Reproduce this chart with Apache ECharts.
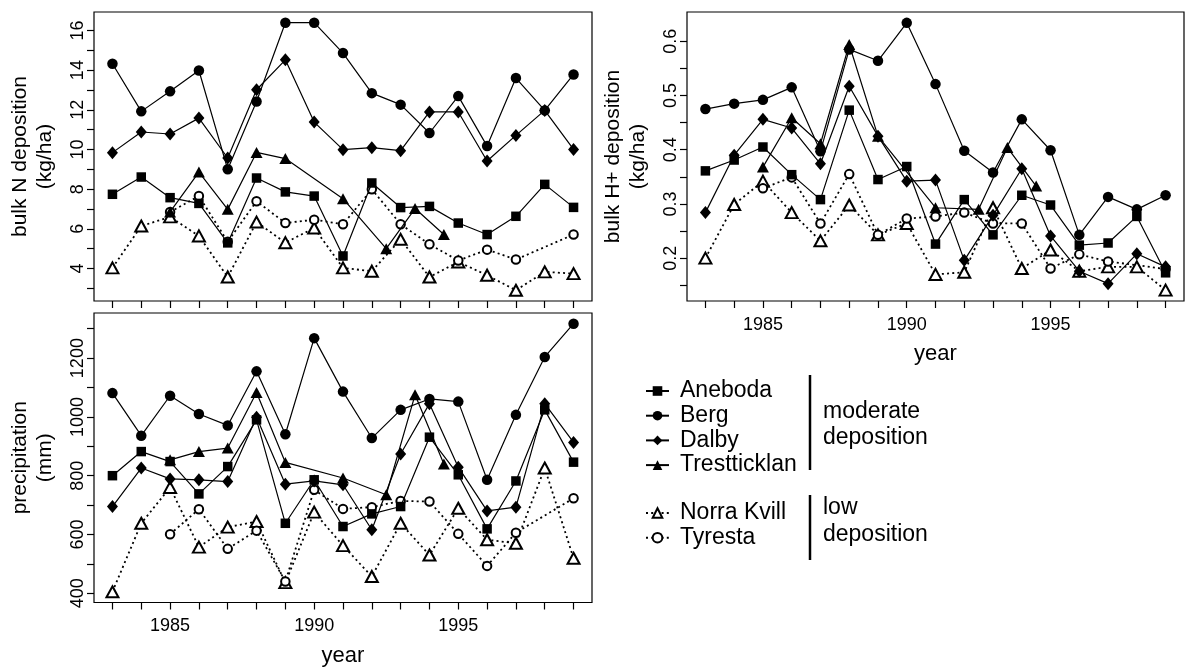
<!DOCTYPE html>
<html>
<head>
<meta charset="utf-8">
<script src="https://cdn.jsdelivr.net/npm/echarts@6/dist/echarts.min.js"></script>
<style>
html,body{margin:0;padding:0;background:#fff;}
#c{width:1185px;height:669px;}
</style>
</head>
<body>
<div id="c"></div>
<script>
// ---------------- data ----------------
const years = [1983,1984,1985,1986,1987,1988,1989,1990,1991,1992,1993,1994,1995,1996,1997,1998,1999];
const trestYears = [1985,1986,1987,1988,1989,1991,1992.5,1993.5,1994.5];
const tyrestaYears = [1985,1986,1987,1988,1989,1990,1991,1992,1993,1994,1995,1996,1997,1999];

const siteNames = ['Aneboda','Berg','Dalby','Trestticklan','Norra Kvill','Tyresta'];

// bulk N deposition (kg/ha)
const nAneboda  = [7.74,8.61,7.57,7.28,5.29,8.56,7.86,7.65,4.63,8.31,7.07,7.13,6.29,5.71,6.63,8.24,7.08];
const nBerg     = [14.32,11.92,12.93,13.98,9.0,12.42,16.39,16.39,14.86,12.84,12.26,10.83,12.69,10.17,13.6,11.97,13.78];
const nDalby    = [9.84,10.88,10.78,11.58,9.57,13.01,14.52,11.38,9.99,10.09,9.94,11.89,11.89,9.42,10.71,11.97,10.0];
const nTrest    = [6.85,8.86,6.98,9.85,9.54,7.52,5.0,7.02,5.71];
const nNorra    = [4.03,6.14,6.6,5.64,3.57,6.34,5.3,6.04,4.03,3.86,5.47,3.57,4.33,3.66,2.9,3.83,3.74];
const nTyresta  = [6.85,7.65,5.35,7.39,6.29,6.46,6.23,7.99,6.23,5.22,4.4,4.95,4.45,5.71];

// bulk H+ deposition (kg/ha)
const hAneboda  = [0.361,0.381,0.405,0.354,0.308,0.473,0.345,0.369,0.226,0.308,0.243,0.316,0.298,0.224,0.228,0.277,0.173];
const hBerg     = [0.475,0.485,0.492,0.515,0.397,0.585,0.564,0.634,0.521,0.398,0.358,0.456,0.399,0.243,0.313,0.29,0.316];
const hDalby    = [0.284,0.39,0.456,0.44,0.374,0.517,0.425,0.342,0.344,0.196,0.279,0.365,0.241,0.176,0.153,0.208,0.184];
const hTrest    = [0.368,0.459,0.411,0.594,0.425,0.293,0.29,0.404,0.333];
const hNorra    = [0.2,0.299,0.342,0.284,0.232,0.298,0.243,0.264,0.17,0.174,0.293,0.181,0.215,0.176,0.184,0.184,0.141];
const hTyresta  = [0.329,0.349,0.264,0.355,0.243,0.273,0.277,0.284,0.264,0.264,0.181,0.207,0.194,0.18];

// precipitation (mm)
const pAneboda  = [800,882,848,738,831,990,638,786,627,670,695,931,803,619,782,1024,846];
const pBerg     = [1081,936,1072,1010,971,1155,941,1268,1086,928,1024,1061,1052,786,1007,1204,1317];
const pDalby    = [695,826,789,786,780,999,771,782,769,616,874,1045,829,680,693,1045,913];
const pTrest    = [854,882,894,1083,845,792,735,1075,840];
const pNorra    = [405,638,760,557,625,644,436,676,562,457,638,530,689,582,570,826,519];
const pTyresta  = [601,686,551,613,440,752,687,693,714,712,602,493,606,723];

// tick values
const yearTicks = years;
const yearLabels = [1985,1990,1995];
const nTicks = [3,4,5,6,7,8,9,10,11,12,13,14,15,16];
const nLabels = [4,6,8,10,12,14,16];
const hTicks = [0.15,0.2,0.25,0.3,0.35,0.4,0.45,0.5,0.55,0.6];
const hLabels = [0.2,0.3,0.4,0.5,0.6];
const pTicks = [400,500,600,700,800,900,1000,1100,1200,1300];
const pLabels = [400,600,800,1000,1200];

// ---------------- chart ----------------
const FONT = '"Liberation Sans", Arial, Helvetica, sans-serif';
const siteYears = [years, years, years, trestYears, years, tyrestaYears];
const panels = [
  [nAneboda,nBerg,nDalby,nTrest,nNorra,nTyresta],
  [hAneboda,hBerg,hDalby,hTrest,hNorra,hTyresta],
  [pAneboda,pBerg,pDalby,pTrest,pNorra,pTyresta]
];
const symbolDefs = [
  {symbol:'rect', size:9.5, empty:false},
  {symbol:'circle', size:10.5, empty:false},
  {symbol:'diamond', size:[11,13], empty:false},
  {symbol:'triangle', size:[12,11], empty:false},
  {symbol:'emptyTriangle', size:[12,11], empty:true},
  {symbol:'emptyCircle', size:8.5, empty:true}
];

const series = [];
panels.forEach((vals, p) => {
  vals.forEach((v, s) => {
    const xs = siteYears[s];
    const sd = symbolDefs[s];
    series.push({
      name: siteNames[s],
      type: 'line',
      xAxisIndex: p,
      yAxisIndex: p,
      data: xs.map((x, i) => [x, v[i]]),
      symbol: sd.symbol,
      symbolSize: sd.size,
      showSymbol: true,
      animation: false,
      silent: true,
      lineStyle: sd.empty
        ? {color:'#000', width:1.8, type:[2,3.2]}
        : {color:'#000', width:1.2, type:'solid'},
      itemStyle: sd.empty
        ? {color:'#000', borderColor:'#000', borderWidth:1.4}
        : {color:'#000', borderWidth:0},
      emphasis: {disabled: true},
      z: sd.empty ? 2 : 3
    });
  });
});

function xAxisDef(gridIndex, showLabels) {
  return {
    type:'value', gridIndex, min:1982.36, max:1999.64,
    axisLine:{show:false},
    splitLine:{show:false},
    axisTick:{show:true, customValues: yearTicks, length:7, lineStyle:{color:'#000', width:1.2}},
    axisLabel:{show:showLabels, customValues: yearLabels, margin:15, fontSize:18, fontFamily:FONT, color:'#000',
               formatter: v => String(v)},
    name: showLabels ? 'year' : '',
    nameLocation:'middle', nameGap:42,
    nameTextStyle:{fontSize:22, fontFamily:FONT, color:'#000'}
  };
}
function yAxisDef(gridIndex, min, max, ticks, labels, name, fmt) {
  return {
    type:'value', gridIndex, min, max,
    axisLine:{show:false},
    splitLine:{show:false},
    axisTick:{show:true, customValues: ticks, length:7, lineStyle:{color:'#000', width:1.2}},
    axisLabel:{show:true, customValues: labels, rotate:90, margin:7, fontSize:18, fontFamily:FONT, color:'#000',
               formatter: fmt || (v => String(v))},
    name, nameLocation:'middle', nameRotate:90, nameGap:36,
    nameTextStyle:{fontSize:21, lineHeight:25, fontFamily:FONT, color:'#000', align:'center'}
  };
}

const option = {
  animation:false,
  backgroundColor:'#fff',
  textStyle:{fontFamily:FONT},
  grid:[
    {left:94, top:12, width:498, height:289, show:true, borderColor:'#000', borderWidth:1.2, backgroundColor:'transparent', containLabel:false},
    {left:687, top:12, width:497, height:289, show:true, borderColor:'#000', borderWidth:1.2, backgroundColor:'transparent', containLabel:false},
    {left:94, top:313, width:498, height:289.5, show:true, borderColor:'#000', borderWidth:1.2, backgroundColor:'transparent', containLabel:false}
  ],
  xAxis:[ xAxisDef(0,false), xAxisDef(1,true), xAxisDef(2,true) ],
  yAxis:[
    yAxisDef(0, 2.36, 16.93, nTicks, nLabels, 'bulk N deposition\n(kg/ha)'),
    yAxisDef(1, 0.121, 0.654, hTicks, hLabels, 'bulk H+ deposition\n(kg/ha)', v => v.toFixed(1)),
    yAxisDef(2, 368.5, 1353.5, pTicks, pLabels, 'precipitation\n(mm)')
  ],
  legend:[
    {data: siteNames.slice(0,4), orient:'vertical', left:640, top:374, itemWidth:23, itemHeight:12, itemGap:0.7,
     selectedMode:false,
     textStyle:{fontSize:23, lineHeight:24, fontFamily:FONT, color:'#000', padding:[0,0,0,6]}},
    {data: siteNames.slice(4), orient:'vertical', left:640, top:496, itemWidth:23, itemHeight:12, itemGap:0.7,
     selectedMode:false,
     textStyle:{fontSize:23, lineHeight:24, fontFamily:FONT, color:'#000', padding:[0,0,0,6]}}
  ],
  graphic:[
    {type:'line', shape:{x1:810, y1:375, x2:810, y2:470}, style:{stroke:'#000', lineWidth:2.5}},
    {type:'line', shape:{x1:810, y1:495, x2:810, y2:560}, style:{stroke:'#000', lineWidth:2.5}},
    {type:'text', left:823, top:399, style:{text:'moderate\ndeposition', font:'23px ' + FONT, lineHeight:26, fill:'#000'}},
    {type:'text', left:823, top:494, style:{text:'low\ndeposition', font:'23px ' + FONT, lineHeight:27, fill:'#000'}}
  ],
  series
};

const chart = echarts.init(document.getElementById('c'), null, {renderer:'canvas'});
chart.setOption(option);
</script>
</body>
</html>
